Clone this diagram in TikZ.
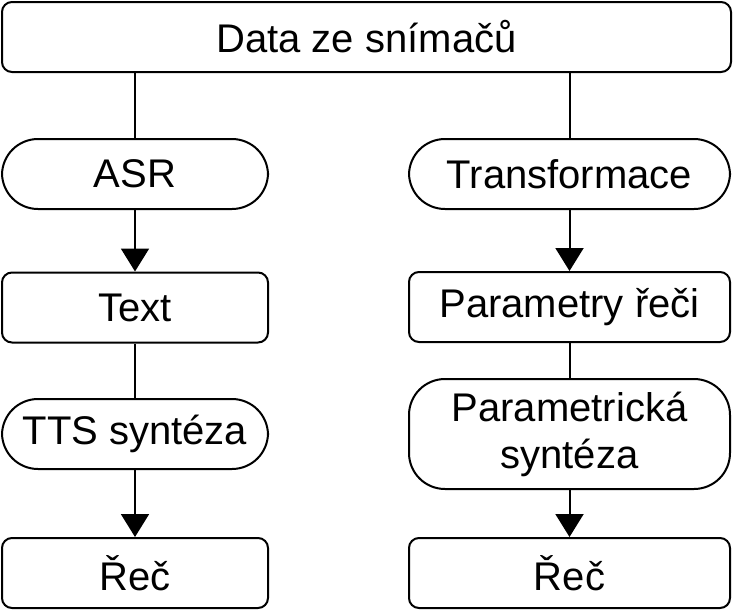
\documentclass[tikz,border=0pt]{standalone}
\usepackage{fontspec}
\setmainfont{Liberation Sans}
\usetikzlibrary{arrows.meta}

\begin{document}
\begin{tikzpicture}[x=1pt,y=-1pt,line width=2pt,
    box/.style={draw,rounded corners=10pt,inner sep=0pt,minimum height=70pt,
                font=\fontsize{40}{47}\selectfont,align=center},
    pill/.style={box,rounded corners=36pt},
    arr/.style={-{Triangle[length=23pt,width=28pt]}}]

    \useasboundingbox (0,0) rectangle (734,611);

    \node[box,minimum width=729pt] (data) at (366.5,37) {Data ze snímačů};

    \node[pill,minimum width=266pt] (asr)  at (135,174)   {ASR};
    \node[box, minimum width=266pt] (text) at (135,307.5) {Text};
    \node[pill,minimum width=266pt] (tts)  at (135,434)   {TTS syntéza};
    \node[box, minimum width=266pt] (rec1) at (135,573)   {Řeč};

    \node[pill,minimum width=321pt] (trans) at (569.5,174) {Transformace};
    \node[box, minimum width=321pt] (param) at (569.5,307) {Parametry řeči};
    \node[pill,minimum width=321pt,minimum height=110pt] (psyn) at (569.5,434) {Parametrická\\syntéza};
    \node[box, minimum width=321pt] (rec2) at (569.5,573) {Řeč};

    \draw (data.south -| asr.north) -- (asr.north);
    \draw (data.south -| trans.north) -- (trans.north);
    \draw (text) -- (tts);
    \draw (param) -- (psyn);
    \draw[arr] (asr) -- (text);
    \draw[arr] (tts) -- (rec1);
    \draw[arr] (trans) -- (param);
    \draw[arr] (psyn) -- (rec2);

\end{tikzpicture}
\end{document}
